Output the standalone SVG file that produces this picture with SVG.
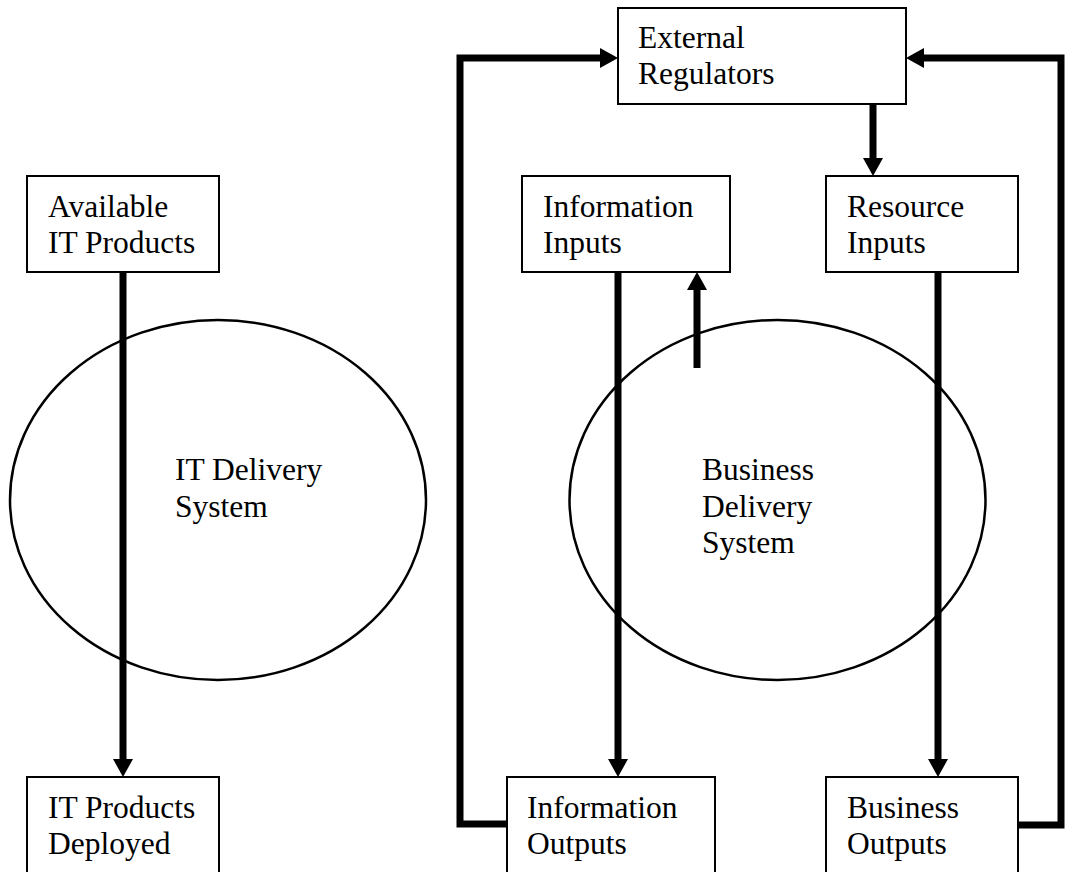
<svg xmlns="http://www.w3.org/2000/svg" width="1066" height="872" viewBox="0 0 1066 872">
<style>
.box{fill:#fff;stroke:#000;stroke-width:2}
.ell{fill:none;stroke:#000;stroke-width:2.5}
.t{font-family:"Liberation Serif","Times New Roman",serif;font-size:31.5px;fill:#000}
.c{fill:none;stroke:#000;stroke-width:7;stroke-linejoin:miter}
</style>
<defs>
<marker id="ah" markerUnits="userSpaceOnUse" markerWidth="18" markerHeight="20" viewBox="0 0 18 20" refX="0" refY="10" orient="auto">
<path d="M0,0 L18,10 L0,20 Z" fill="#000"/>
</marker>
</defs>
<rect width="1066" height="872" fill="#fff"/>
<g id="it-delivery"><ellipse class="ell" cx="218" cy="500" rx="208" ry="180"/>
<text class="t" x="175" y="480">IT Delivery</text><text class="t" x="175" y="517">System</text></g>
<g id="business-delivery"><ellipse class="ell" cx="777.5" cy="500" rx="208" ry="180"/>
<text class="t" x="702" y="480">Business</text><text class="t" x="702" y="517">Delivery</text><text class="t" x="702" y="553">System</text></g>
<g id="connectors">
<line class="c" x1="123" y1="272" x2="123" y2="759" marker-end="url(#ah)"/>
<line class="c" x1="618" y1="272" x2="618" y2="759" marker-end="url(#ah)"/>
<line class="c" x1="938" y1="272" x2="938" y2="759" marker-end="url(#ah)"/>
<line class="c" x1="873" y1="104" x2="873" y2="158" marker-end="url(#ah)"/>
<line class="c" x1="697" y1="368" x2="697" y2="290" marker-end="url(#ah)"/>
<polyline class="c" points="507,824 460,824 460,58 600,58" marker-end="url(#ah)"/>
<polyline class="c" points="1018,825 1061,825 1061,58 924,58" marker-end="url(#ah)"/>
</g>
<g id="external-regulators"><rect class="box" x="618" y="8" width="288" height="96"/>
<text class="t" x="638" y="48">External</text><text class="t" x="638" y="84">Regulators</text></g>
<g id="available-it-products"><rect class="box" x="27" y="176" width="192" height="96"/>
<text class="t" x="48" y="217">Available</text><text class="t" x="48" y="253">IT Products</text></g>
<g id="information-inputs"><rect class="box" x="522" y="176" width="208" height="96"/>
<text class="t" x="543" y="217">Information</text><text class="t" x="543" y="253">Inputs</text></g>
<g id="resource-inputs"><rect class="box" x="826" y="176" width="192" height="96"/>
<text class="t" x="847" y="217">Resource</text><text class="t" x="847" y="253">Inputs</text></g>
<g id="it-products-deployed"><rect class="box" x="27" y="777" width="192" height="110"/>
<text class="t" x="48" y="818">IT Products</text><text class="t" x="48" y="854">Deployed</text></g>
<g id="information-outputs"><rect class="box" x="507" y="777" width="208" height="110"/>
<text class="t" x="527" y="818">Information</text><text class="t" x="527" y="854">Outputs</text></g>
<g id="business-outputs"><rect class="box" x="826" y="777" width="192" height="110"/>
<text class="t" x="847" y="818">Business</text><text class="t" x="847" y="854">Outputs</text></g>
</svg>
